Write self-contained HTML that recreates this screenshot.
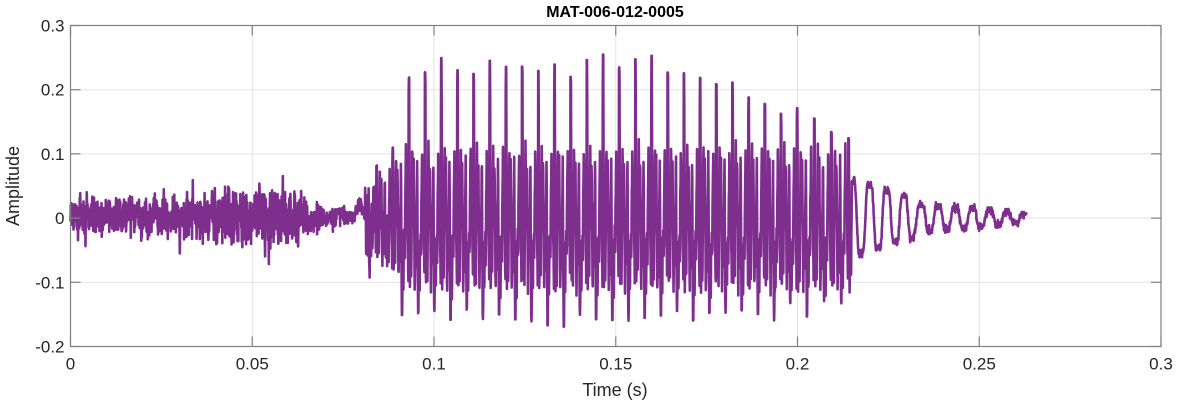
<!DOCTYPE html>
<html><head><meta charset="utf-8"><style>
html,body{margin:0;padding:0;background:#fff;}
svg{display:block;font-family:"Liberation Sans",Arial,sans-serif;}
</style></head><body>
<svg id="s" width="1177" height="404" viewBox="0 0 1177 404" xmlns="http://www.w3.org/2000/svg">
<rect width="1177" height="404" fill="#fff"/>
<g id="grid" stroke="#e3e3e3" stroke-width="1"></g>
<path id="wave" fill="none" stroke="#7e2f8e" stroke-width="2.6" stroke-linejoin="round"/>
<g id="ax" stroke="#808080" stroke-width="1.2" fill="none"></g>
<g id="lbl" fill="#262626" font-size="17"></g>
<text x="615" y="17" text-anchor="middle" font-size="16" font-weight="bold" fill="#000">MAT-006-012-0005</text>
<text x="615" y="396" text-anchor="middle" font-size="18" fill="#262626">Time (s)</text>
<text transform="translate(19,186) rotate(-90)" text-anchor="middle" font-size="18" fill="#262626">Amplitude</text>
</svg>
<script>
var L=70.5,R=1161,T=25.5,B=346.5;
function X(t){return L+t/0.3*(R-L);}
function Y(v){return T+(0.3-v)/0.5*(B-T);}
var ns="http://www.w3.org/2000/svg";
function el(p,n,a){var e=document.createElementNS(ns,n);for(var k in a)e.setAttribute(k,a[k]);document.getElementById(p).appendChild(e);return e;}
var xt=[0,0.05,0.1,0.15,0.2,0.25,0.3],xl=["0","0.05","0.1","0.15","0.2","0.25","0.3"];
var yt=[0.3,0.2,0.1,0,-0.1,-0.2],yl=["0.3","0.2","0.1","0","-0.1","-0.2"];
xt.forEach(function(t,i){var x=X(t);el("grid","line",{x1:x,x2:x,y1:T,y2:B});el("ax","line",{x1:x,x2:x,y1:B,y2:B-10});el("ax","line",{x1:x,x2:x,y1:T,y2:T+10});
 var e=el("lbl","text",{x:x,y:B+23,"text-anchor":"middle"});e.textContent=xl[i];});
yt.forEach(function(v,i){var y=Y(v);el("grid","line",{x1:L,x2:R,y1:y,y2:y});el("ax","line",{x1:L,x2:L+10,y1:y,y2:y});el("ax","line",{x1:R,x2:R-10,y1:y,y2:y});
 var e=el("lbl","text",{x:L-6,y:y+6,"text-anchor":"end"});e.textContent=yl[i];});
var seed=7;function rnd(){seed=(seed*16807)%2147483647;return seed/2147483647;}
function gs(){return (rnd()+rnd()+rnd()-1.5)*1.4;}
function lerp(a,b,u){return a+(b-a)*u;}
function envN(t){
 if(t<0.03)return 0.026;
 if(t<0.058)return lerp(0.028,0.052,(t-0.03)/0.028);
 if(t<0.07)return lerp(0.052,0.016,(t-0.058)/0.012);
 return lerp(0.016,0.01,(t-0.07)/0.01);}
function envP(t){
 if(t<0.09)return lerp(0.06,0.12,(t-0.08)/0.01);
 if(t<0.095)return lerp(0.2,0.27,(t-0.09)/0.005);
 if(t<0.17)return 0.25;
 if(t<0.215)return lerp(0.25,0.13,(t-0.17)/0.045);
 return 0.1;}
function envM(t){
 if(t<0.09)return 0.09;
 if(t<0.1)return 0.17;
 if(t<0.17)return 0.165;
 if(t<0.215)return lerp(0.165,0.14,(t-0.17)/0.045);
 return 0.06;}
function tailA(t){
 if(t<0.232)return lerp(0.07,0.035,(t-0.215)/0.017);
 if(t<0.25)return lerp(0.025,0.017,(t-0.232)/0.018);
 return lerp(0.015,0.007,(t-0.25)/0.013);}
var d="",first=true,dt=0.3/1090/4,Tp=0.00445,ph=0.3,lastK=-1,rp=1,rm=1,nb=0;
for(var t=0;t<=0.263;t+=dt){
 var v;
 if(t<0.081){var n=gs();nb=0.6*nb+0.4*gs();v=(0.6*n+0.6*nb)*envN(t)*(rnd()<0.05?2.0:1.1)+0.002;
   if(t>0.078)v+=0.02*Math.sin((t-0.078)/0.003*Math.PI);}
 else{
  ph+=dt/(t<0.2?Tp:Tp*1.06);var k=Math.floor(ph),p=ph-k;
  if(k!==lastK){lastK=k;rp=0.88+rnd()*0.14;rm=0.85+rnd()*0.2;}
  if(t<0.215){
   var ep=envP(t)*rp,em=envM(t)*rm,g=Math.min(1,(t-0.081)/0.012);
   var spike=ep*1.05*Math.exp(-Math.pow((p-0.03)/0.025,2));
   var trough=-em*1.4*Math.exp(-Math.pow((p-0.6)/0.045,2));
   var f=0.1*g*Math.cos(2*Math.PI*3.4*p+0.6)*Math.exp(-0.5*p)+0.035*Math.sin(2*Math.PI*10*p)+0.02*Math.sin(2*Math.PI*23*p);
   v=spike+trough*(t<0.09?0.6:1)+f+gs()*0.006;
   v=Math.max(-em,Math.min(ep,v));
  } else {
   v=tailA(t)*Math.sin(2*Math.PI*p)+0.2*tailA(t)*Math.sin(2*Math.PI*3*p)+gs()*0.004;
  }
 }
 d+=(first?"M":"L")+X(t).toFixed(2)+" "+Y(v).toFixed(2);first=false;
}
document.getElementById("wave").setAttribute("d",d);
el("ax","rect",{x:L,y:T,width:R-L,height:B-T});
</script>
</body></html>
